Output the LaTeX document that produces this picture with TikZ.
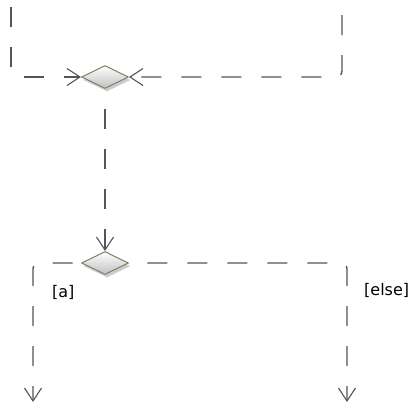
\documentclass[tikz,border=0pt]{standalone}
\usepackage{fontspec}
\setmainfont{DejaVu Sans}
\usetikzlibrary{shapes.geometric, shadows, arrows.meta}
\definecolor{olivegray}{HTML}{7F7F6A}
\definecolor{linegray}{HTML}{555555}

\begin{document}
\begin{tikzpicture}[x=1pt, y=-1pt,
    flowline/.style={draw=linegray, line width=1.4pt, dash pattern=on 20pt off 20pt,
        rounded corners=6pt, -{Straight Barb[length=13pt,width=17pt,line width=1.1pt]}},
    mergenode/.style={diamond, draw=olivegray, line width=1pt, aspect=2,
        minimum width=47pt, minimum height=23pt, inner sep=0pt,
        top color=white, bottom color=black!25,
        drop shadow={shadow xshift=2pt, shadow yshift=-3pt, fill=black!40}},
    guard/.style={font=\fontsize{16}{19}\selectfont, inner sep=0pt, anchor=west}]
                \useasboundingbox (0,0) rectangle (420,405);
                % Merge and decision
                \node[mergenode] (merge) at (105,77) {};
                \node[mergenode] (decision) at (105,263) {};

                % Free ends of the flows
                \coordinate (inA) at (11,0);
                \coordinate (inB) at (342,0);
                \coordinate (outA) at (33,402);
                \coordinate (outB) at (347,402);

                % Guards
                \node[guard] (guardA) at (52,292) {[a]};
                \node[guard] (guardElse) at (364,290) {[else]};

                \draw[flowline, dash phase=33pt] (inA) |- (merge.west);
                \draw[flowline, dash phase=25pt] (inB) |- (merge.east);
                \draw[flowline, dash phase=20pt] (merge.south) -- (decision.north);
                \draw[flowline, dash phase=31.6pt] (decision.west) -| (outA);
                \draw[flowline, dash phase=21.6pt] (decision.east) -| (outB);
            \end{tikzpicture}
\end{document}
